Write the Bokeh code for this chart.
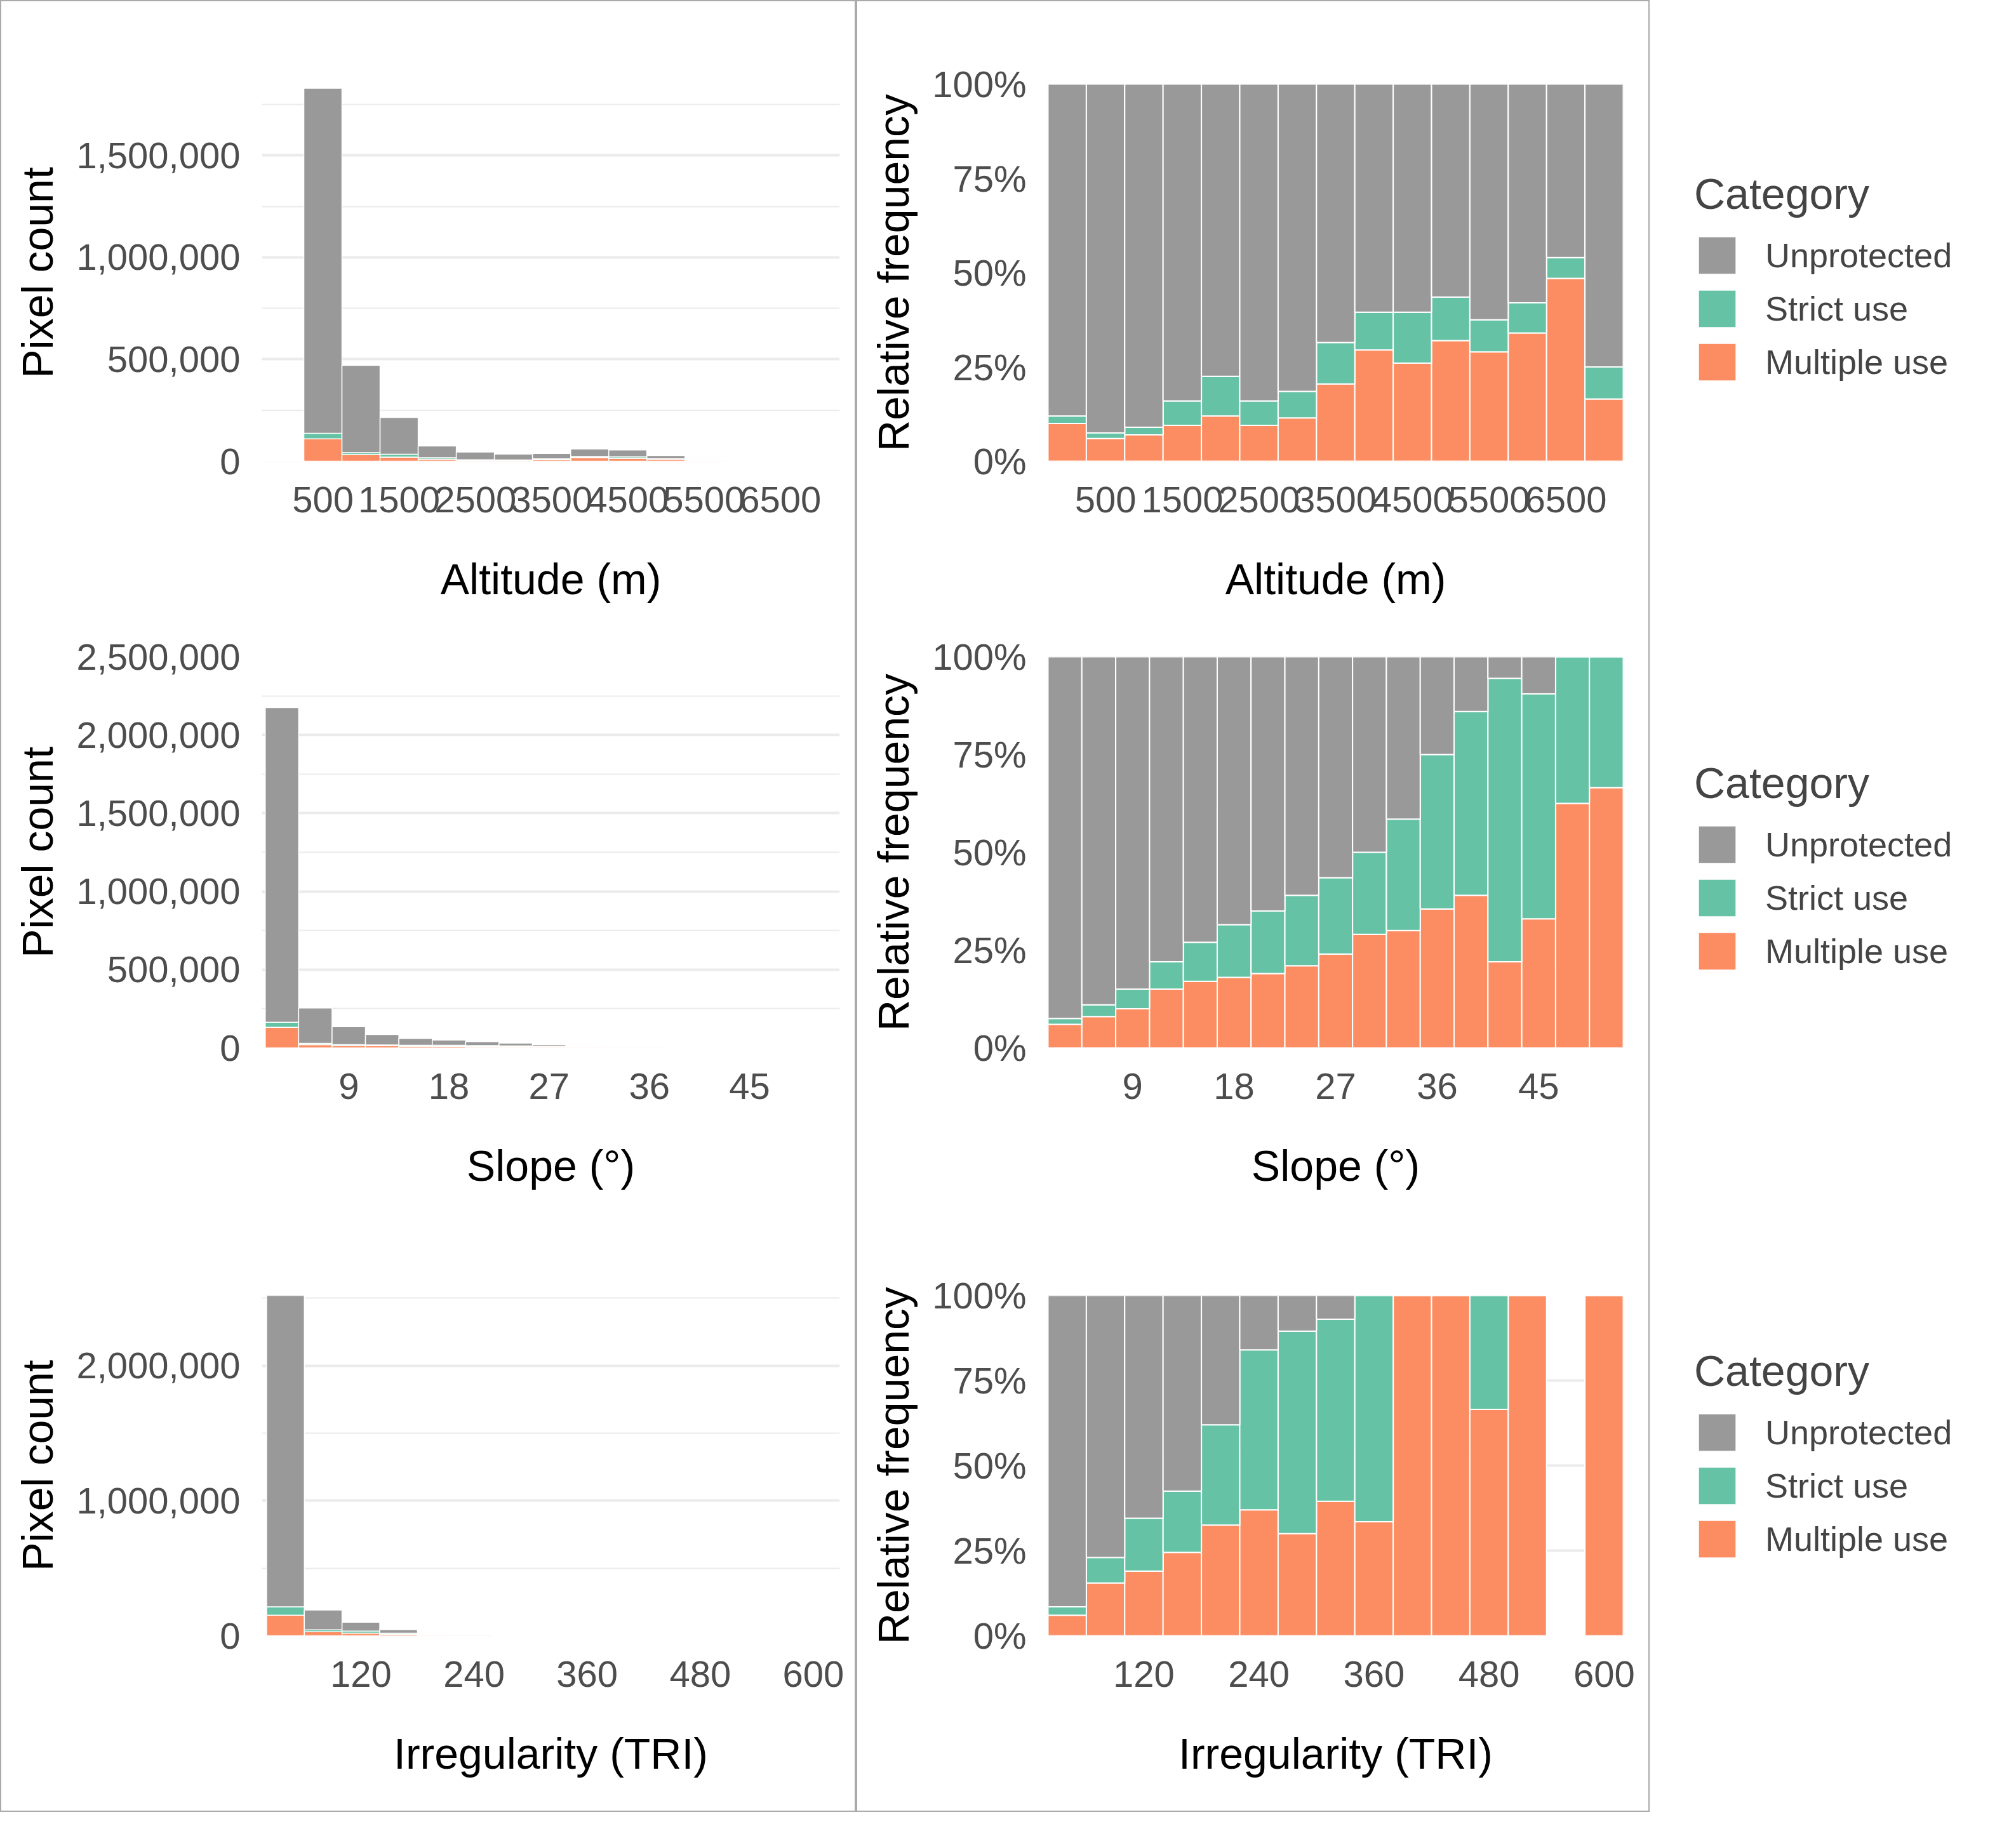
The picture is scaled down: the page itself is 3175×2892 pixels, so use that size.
from bokeh.plotting import figure
from bokeh.layouts import row, column
from bokeh.models import (NumeralTickFormatter, Range1d, FixedTicker, Legend, LegendItem,
                          Label, ColumnDataSource)
from bokeh.embed import file_html
from bokeh.resources import INLINE

# ---------------- data ----------------
alt_bins = [0, 500, 1000, 1500, 2000, 2500, 3000, 3500, 4000, 4500, 5000, 5500, 6000, 6500, 7000]
alt_count = [5000, 1830000, 470000, 215000, 75000, 45000, 35000, 38000, 60000, 55000, 28000, 8000, 1000, 300, 100]
alt_mult = [0.10, 0.06, 0.07, 0.095, 0.12, 0.095, 0.115, 0.205, 0.295, 0.26, 0.32, 0.29, 0.34, 0.485, 0.165]
alt_prot = [0.12, 0.075, 0.09, 0.16, 0.225, 0.16, 0.185, 0.315, 0.395, 0.395, 0.435, 0.375, 0.42, 0.54, 0.25]
alt_ticks = [500, 1500, 2500, 3500, 4500, 5500, 6500]

slope_bins = [3, 6, 9, 12, 15, 18, 21, 24, 27, 30, 33, 36, 39, 42, 45, 48, 51]
slope_count = [2175000, 255000, 135000, 85000, 60000, 50000, 40000, 30000, 20000, 12000, 6000, 3000, 1500, 700, 300, 100, 50]
slope_mult = [0.06, 0.08, 0.10, 0.15, 0.17, 0.18, 0.19, 0.21, 0.24, 0.29, 0.30, 0.355, 0.39, 0.22, 0.33, 0.625, 0.665]
slope_prot = [0.075, 0.11, 0.15, 0.22, 0.27, 0.315, 0.35, 0.39, 0.435, 0.50, 0.585, 0.75, 0.86, 0.945, 0.905, 1.0, 1.0]
slope_ticks = [9, 18, 27, 36, 45]

tri_bins = [40, 80, 120, 160, 200, 240, 280, 320, 360, 400, 440, 480, 520, 560, 600]
tri_count = [2520000, 190000, 100000, 45000, 8000, 2000, 500, 200, 80, 20, 10, 5, 3, 0, 1]
tri_mult = [0.06, 0.155, 0.19, 0.245, 0.325, 0.37, 0.30, 0.395, 0.335, 1.0, 1.0, 0.665, 1.0, 0.0, 1.0]
tri_prot = [0.085, 0.23, 0.345, 0.425, 0.62, 0.84, 0.895, 0.93, 1.0, 1.0, 1.0, 1.0, 1.0, 0.0, 1.0]
tri_ticks = [120, 240, 360, 480, 600]

categories = ["Unprotected", "Strict use", "Multiple use"]
colors = {"Unprotected": "#999999", "Strict use": "#66c2a5", "Multiple use": "#fc8d62"}

S = 2.0
FONT = "Liberation Sans"
TICK = "58px"
TITLE = "68px"

rows_cfg = [
    (alt_bins, alt_count, alt_mult, alt_prot, 500, alt_ticks, "Altitude (m)", (-300, 7280), (-250, 7250),
     1850000, [0, 500000, 1000000, 1500000], 490, 65, 297),
    (slope_bins, slope_count, slope_mult, slope_prot, 3, slope_ticks, "Slope (°)", (1.2, 53.1), (1.5, 52.5),
     2500000, [0, 500000, 1000000, 1500000, 2000000, 2500000], 465, 26, 308),
    (tri_bins, tri_count, tri_mult, tri_prot, 40, tri_ticks, "Irregularity (TRI)", (15, 628), (20, 620),
     2520000, [0, 1000000, 2000000], 470, 64, 268),
]


def style(p, ticks):
    p.toolbar_location = None
    p.outline_line_color = None
    p.xgrid.grid_line_color = None
    p.ygrid.grid_line_color = "#ebebeb"
    p.ygrid.grid_line_width = 4
    p.ygrid.minor_grid_line_color = "#ebebeb"
    p.ygrid.minor_grid_line_width = 2
    for ax in (p.xaxis[0], p.yaxis[0]):
        ax.axis_line_color = None
        ax.major_tick_line_color = None
        ax.minor_tick_line_color = None
        ax.major_label_text_font = FONT
        ax.major_label_text_font_size = TICK
        ax.major_label_text_color = "#4d4d4d"
        ax.axis_label_text_font = FONT
        ax.axis_label_text_font_size = TITLE
        ax.axis_label_text_font_style = "normal"
        ax.axis_label_text_color = "#000000"
    p.xaxis[0].ticker = FixedTicker(ticks=ticks)
    p.xaxis[0].major_label_standoff = 34
    p.xaxis[0].axis_label_standoff = 64
    p.yaxis[0].major_label_standoff = 28
    p.yaxis[0].axis_label_standoff = 20


left_figs, right_figs, leg_figs = [], [], []
for i, (bins, cnt, fm, fp, w, ticks, xl, lxr, rxr, yend, yt, rh, top, ph) in enumerate(rows_cfg):
    H = int(rh * S)
    topb = int(top * S)
    bottomb = H - topb - int(ph * S)
    src = ColumnDataSource(dict(
        x=bins,
        m=[c * a for c, a in zip(cnt, fm)],
        s=[c * (b - a) for c, a, b in zip(cnt, fm, fp)],
        u=[c * (1 - b) if c > 0 else 0 for c, b in zip(cnt, fp)],
    ))
    pl = figure(width=int(672 * S), height=H, output_backend="svg", toolbar_location=None,
                x_range=Range1d(*lxr), y_range=Range1d(0, yend),
                min_border_left=int(205 * S), min_border_right=int(12 * S),
                min_border_top=topb, min_border_bottom=bottomb)
    pl.vbar_stack(["m", "s", "u"], x="x", width=w, source=src,
                  color=[colors["Multiple use"], colors["Strict use"], colors["Unprotected"]],
                  line_color="white", line_width=1.5)
    style(pl, ticks)
    pl.yaxis[0].ticker = FixedTicker(ticks=yt, minor_ticks=[(yt[k] + yt[k + 1]) / 2 for k in range(len(yt) - 1)] +
                                     [yt[-1] + (yt[1] - yt[0]) / 2])
    pl.yaxis[0].formatter = NumeralTickFormatter(format="0,0")
    pl.yaxis[0].axis_label = "Pixel count"
    pl.xaxis[0].axis_label = xl
    left_figs.append(pl)

    src2 = ColumnDataSource(dict(
        x=bins,
        m=fm,
        s=[b - a for a, b in zip(fm, fp)],
        u=[(1 - b) if c > 0 else 0 for c, b in zip(cnt, fp)],
    ))
    pr = figure(width=int(623 * S), height=H, output_backend="svg", toolbar_location=None,
                x_range=Range1d(*rxr), y_range=Range1d(0, 1),
                min_border_left=int(150 * S), min_border_right=int(20 * S),
                min_border_top=topb, min_border_bottom=bottomb)
    pr.vbar_stack(["m", "s", "u"], x="x", width=w, source=src2,
                  color=[colors["Multiple use"], colors["Strict use"], colors["Unprotected"]],
                  line_color="white", line_width=2)
    style(pr, ticks)
    pr.yaxis[0].ticker = FixedTicker(ticks=[0, 0.25, 0.5, 0.75, 1.0])
    pr.yaxis[0].formatter = NumeralTickFormatter(format="0%")
    pr.yaxis[0].axis_label = "Relative frequency"
    pr.xaxis[0].axis_label = xl
    right_figs.append(pr)

    pg = figure(width=int(250 * S), height=H, output_backend="svg", toolbar_location=None,
                x_range=Range1d(0, 1), y_range=Range1d(0, 1),
                min_border_left=0, min_border_right=0, min_border_top=0, min_border_bottom=0)
    pg.axis.visible = False
    pg.grid.visible = False
    pg.outline_line_color = None
    items = []
    for c in categories:
        r = pg.rect(x=[5], y=[5], width=1, height=1, fill_color=colors[c], line_color=None)
        items.append(LegendItem(label=c, renderers=[r]))
    leg_top = [128, 102, 100][i] * S
    lg = Legend(items=items, title="Category", location=(int(35 * S), int(H - leg_top - 350)),
                title_text_font=FONT, title_text_font_size="68px", title_text_font_style="normal",
                label_text_font=FONT, label_text_font_size="54px", label_standoff=40,
                glyph_width=72, glyph_height=72, label_height=72, spacing=12,
                padding=0, margin=0, border_line_color=None, background_fill_alpha=0,
                title_standoff=22)
    pg.add_layout(lg, "center")
    leg_figs.append(pg)

ph0, top0 = rows_cfg[0][12], rows_cfg[0][11]
ph0 = rows_cfg[0][13]
top0 = rows_cfg[0][12]
ya = int((ph0 + top0 - 50) * S)
left_figs[0].add_layout(Label(x=int((15 - 205) * S), y=ya, x_units="screen", y_units="screen",
                              text="a)", text_font=FONT, text_font_size="66px"))
right_figs[0].add_layout(Label(x=int((1283 - 822) * S), y=ya, x_units="screen", y_units="screen",
                               text="b)", text_font=FONT, text_font_size="66px", text_align="right"))

border = {"border": "2px solid #aaaaaa"}
layout = row(column(*left_figs, styles=border), column(*right_figs, styles=border), column(*leg_figs))

open("out.html", "w").write(file_html(layout, INLINE))
